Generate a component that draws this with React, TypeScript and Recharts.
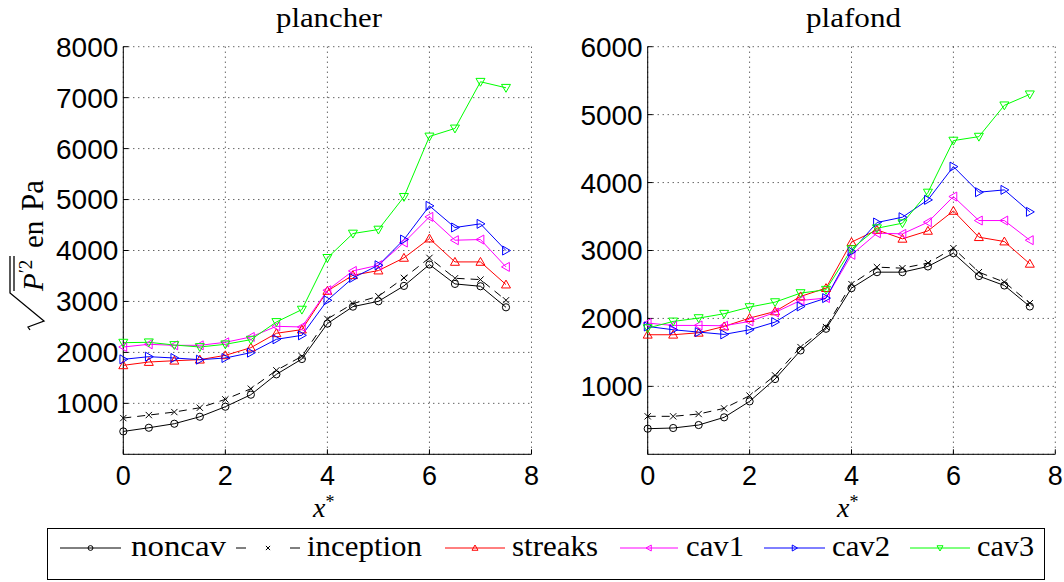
import React from 'react';
import { LineChart, Line, XAxis, YAxis, CartesianGrid } from 'recharts';

const xs = [0, 0.5, 1, 1.5, 2, 2.5, 3, 3.5, 4, 4.5, 5, 5.5, 6, 6.5, 7, 7.5];

// plancher
const planNoncav = [449, 521, 600, 737, 934, 1170, 1569, 1870, 2565, 2898, 3003, 3305, 3724, 3344, 3298, 2885];
const planInception = [711, 770, 829, 914, 1078, 1287, 1648, 1923, 2656, 2957, 3102, 3462, 3855, 3455, 3429, 3023];
const planStreaks = [1746, 1811, 1837, 1857, 1942, 2093, 2375, 2447, 3206, 3514, 3606, 3855, 4234, 3776, 3776, 3331];
const planCav1 = [2106, 2159, 2139, 2139, 2198, 2303, 2512, 2499, 3219, 3599, 3711, 4156, 4660, 4202, 4215, 3678];
const planCav2 = [1864, 1916, 1890, 1857, 1890, 1995, 2257, 2335, 3023, 3462, 3711, 4215, 4876, 4451, 4523, 3999];
const planCav3 = [2191, 2198, 2145, 2106, 2159, 2250, 2597, 2840, 3855, 4333, 4411, 5053, 6238, 6396, 7312, 7194];

// plafond
const plafNoncav = [377, 387, 431, 544, 779, 1108, 1529, 1848, 2446, 2681, 2681, 2765, 2961, 2623, 2485, 2176];
const plafInception = [559, 559, 593, 676, 863, 1162, 1578, 1873, 2505, 2755, 2740, 2814, 3034, 2681, 2534, 2225];
const plafStreaks = [1760, 1760, 1789, 1882, 2005, 2103, 2324, 2446, 3123, 3304, 3172, 3289, 3583, 3196, 3132, 2804];
const plafCav1 = [1931, 1897, 1897, 1892, 1956, 2088, 2265, 2299, 2936, 3255, 3245, 3417, 3794, 3441, 3441, 3152];
const plafCav2 = [1882, 1833, 1799, 1765, 1833, 1946, 2176, 2299, 2985, 3412, 3490, 3745, 4235, 3858, 3892, 3569];
const plafCav3 = [1858, 1956, 2005, 2069, 2167, 2240, 2373, 2422, 3020, 3328, 3402, 3853, 4618, 4676, 5137, 5299];

const xTicks = [0, 2, 4, 6, 8];
const planTicks = [1000, 2000, 3000, 4000, 5000, 6000, 7000, 8000];
const plafTicks = [1000, 2000, 3000, 4000, 5000, 6000];

const series = [
  { key: 'noncav', color: '#000000', shape: 'circle', dash: undefined },
  { key: 'inception', color: '#000000', shape: 'x', dash: '8 6' },
  { key: 'streaks', color: '#ff0000', shape: 'up', dash: undefined },
  { key: 'cav1', color: '#ff00ff', shape: 'left', dash: undefined },
  { key: 'cav2', color: '#0000ff', shape: 'right', dash: undefined },
  { key: 'cav3', color: '#00ff00', shape: 'down', dash: undefined },
];

const planData = xs.map((x, i) => ({
  x,
  noncav: planNoncav[i],
  inception: planInception[i],
  streaks: planStreaks[i],
  cav1: planCav1[i],
  cav2: planCav2[i],
  cav3: planCav3[i],
}));

const plafData = xs.map((x, i) => ({
  x,
  noncav: plafNoncav[i],
  inception: plafInception[i],
  streaks: plafStreaks[i],
  cav1: plafCav1[i],
  cav2: plafCav2[i],
  cav3: plafCav3[i],
}));

const SANS = '"Liberation Sans", Arial, Helvetica, sans-serif';
const SERIF = '"Liberation Serif", "Times New Roman", serif';

function Marker({ cx, cy, shape, color, s }: any) {
  if (cx == null || cy == null || isNaN(cx) || isNaN(cy)) return null;
  const common = { fill: 'none', stroke: color, strokeWidth: 1 };
  switch (shape) {
    case 'circle':
      return <circle cx={cx} cy={cy} r={s * 0.8} {...common} />;
    case 'x': {
      const d = s * 0.7;
      return <path d={`M${cx - d},${cy - d}L${cx + d},${cy + d}M${cx - d},${cy + d}L${cx + d},${cy - d}`} {...common} />;
    }
    case 'up':
      return <polygon points={`${cx},${cy - s} ${cx - s},${cy + s * 0.75} ${cx + s},${cy + s * 0.75}`} {...common} />;
    case 'down':
      return <polygon points={`${cx},${cy + s} ${cx - s},${cy - s * 0.75} ${cx + s},${cy - s * 0.75}`} {...common} />;
    case 'left':
      return <polygon points={`${cx - s},${cy} ${cx + s * 0.75},${cy - s} ${cx + s * 0.75},${cy + s}`} {...common} />;
    case 'right':
      return <polygon points={`${cx + s},${cy} ${cx - s * 0.75},${cy - s} ${cx - s * 0.75},${cy + s}`} {...common} />;
    default:
      return null;
  }
}

const axisStyle = { stroke: '#000', strokeWidth: 1 };

function Panel({ id, data, yMax, yTicks, width, yAxisWidth, rightMargin }: any) {
  return (
    <LineChart
      width={width}
      height={530}
      data={data}
      margin={{ top: 46.7, right: rightMargin, left: 0, bottom: 0 }}
    >
      <CartesianGrid stroke="#222" strokeDasharray="1 4" strokeWidth={1} />
      <XAxis
        dataKey="x"
        type="number"
        domain={[0, 8]}
        ticks={xTicks}
        interval={0}
        height={75.7}
        tickSize={-5}
        tickMargin={17}
        axisLine={axisStyle}
        tickLine={axisStyle}
        tick={{ fill: '#000', fontSize: 27, fontFamily: SANS }}
      />
      <XAxis
        xAxisId="top"
        orientation="top"
        dataKey="x"
        type="number"
        domain={[0, 8]}
        ticks={xTicks}
        interval={0}
        height={0}
        tickSize={-5}
        axisLine={axisStyle}
        tickLine={axisStyle}
        tick={false}
      />
      <YAxis
        type="number"
        domain={[0, yMax]}
        ticks={yTicks}
        interval={0}
        width={yAxisWidth}
        tickSize={-5}
        tickMargin={10}
        axisLine={axisStyle}
        tickLine={axisStyle}
        tick={{ fill: '#000', fontSize: 28, fontFamily: SANS }}
      />
      <YAxis
        yAxisId="right"
        orientation="right"
        type="number"
        domain={[0, yMax]}
        ticks={yTicks}
        interval={0}
        width={0}
        tickSize={-5}
        axisLine={axisStyle}
        tickLine={axisStyle}
        tick={false}
      />
      {series.map((s) => (
        <Line
          key={s.key}
          dataKey={s.key}
          stroke={s.color}
          strokeWidth={1}
          strokeDasharray={s.dash}
          isAnimationActive={false}
          activeDot={false}
          dot={(p: any) => (
            <g key={`${id}-${s.key}-${p.index}`}>
              <Marker cx={p.cx} cy={p.cy} shape={s.shape} color={s.color} s={4.5} />
            </g>
          )}
        />
      ))}
    </LineChart>
  );
}

const legendItems = [
  { label: 'noncav', x1: 60, x2: 121, tx: 131, tw: 95, color: '#000000', shape: 'circle', dashed: false },
  { label: 'inception', x1: 236, x2: 300, tx: 307, tw: 115, color: '#000000', shape: 'x', dashed: true },
  { label: 'streaks', x1: 445, x2: 505, tx: 512, tw: 86, color: '#ff0000', shape: 'up', dashed: false },
  { label: 'cav1', x1: 620, x2: 678, tx: 686, tw: 58, color: '#ff00ff', shape: 'left', dashed: false },
  { label: 'cav2', x1: 764, x2: 825, tx: 832, tw: 58, color: '#0000ff', shape: 'right', dashed: false },
  { label: 'cav3', x1: 910, x2: 970, tx: 977, tw: 57, color: '#00ff00', shape: 'down', dashed: false },
];

function Overlay() {
  const ly = 548;
  return (
    <svg width={1064} height={582} style={{ position: 'absolute', left: 0, top: 0, pointerEvents: 'none' }}>
      {/* titles */}
      <text x={276} y={27} fontFamily={SERIF} fontSize={27} textLength={106} lengthAdjust="spacingAndGlyphs" fill="#000">plancher</text>
      <text x={806} y={27} fontFamily={SERIF} fontSize={27} textLength={95} lengthAdjust="spacingAndGlyphs" fill="#000">plafond</text>

      {/* x labels */}
      <text x={313} y={517} fontFamily={SERIF} fontSize={28} fontStyle="italic" fill="#000">
        x<tspan dy={-9} fontSize={18} fontStyle="normal">*</tspan>
      </text>
      <text x={837} y={517} fontFamily={SERIF} fontSize={28} fontStyle="italic" fill="#000">
        x<tspan dy={-9} fontSize={18} fontStyle="normal">*</tspan>
      </text>

      {/* y label */}
      <g transform="translate(43, 330) rotate(-90)">
        <path d="M0,-13 L3,-15 L9,1 L37,-33 L74,-33" fill="none" stroke="#000" strokeWidth={1.3} />
        <line x1={39} y1={-29} x2={74} y2={-29} stroke="#000" strokeWidth={1.3} />
        <text x={39} y={0} fontFamily={SERIF} fontSize={29} fill="#000">
          <tspan fontStyle="italic">P</tspan>
          <tspan dy={-11} fontSize={19}>′2</tspan>
        </text>
        <text x={82} y={0} fontFamily={SERIF} fontSize={29} fill="#000">en</text>
        <text x={119} y={0} fontFamily={SERIF} fontSize={31} fill="#000">Pa</text>
      </g>

      {/* legend */}
      <rect x={47.5} y={528.5} width={997} height={51} fill="#fff" stroke="#000" strokeWidth={1} />
      {legendItems.map((it) => {
        const mid = (it.x1 + it.x2) / 2;
        return (
          <g key={it.label}>
            {it.dashed ? (
              <>
                <line x1={it.x1} y1={ly} x2={it.x1 + 10} y2={ly} stroke={it.color} strokeWidth={1} />
                <line x1={it.x2 - 10} y1={ly} x2={it.x2} y2={ly} stroke={it.color} strokeWidth={1} />
              </>
            ) : (
              <line x1={it.x1} y1={ly} x2={it.x2} y2={ly} stroke={it.color} strokeWidth={1} />
            )}
            <Marker cx={mid} cy={ly} shape={it.shape} color={it.color} s={3} />
            <text x={it.tx} y={556} fontFamily={SERIF} fontSize={29} textLength={it.tw} lengthAdjust="spacingAndGlyphs" fill="#000">
              {it.label}
            </text>
          </g>
        );
      })}
    </svg>
  );
}

export default function App() {
  return (
    <div style={{ position: 'absolute', left: 0, top: 0, width: 1064, height: 582, background: '#fff' }}>
      <div style={{ position: 'absolute', left: 0, top: 0 }}>
        <Panel id="plan" data={planData} yMax={8000} yTicks={planTicks} width={560} yAxisWidth={123.3} rightMargin={28.5} />
      </div>
      <div style={{ position: 'absolute', left: 560, top: 0 }}>
        <Panel id="plaf" data={plafData} yMax={6000} yTicks={plafTicks} width={504} yAxisWidth={87.7} rightMargin={8.7} />
      </div>
      <Overlay />
    </div>
  );
}
